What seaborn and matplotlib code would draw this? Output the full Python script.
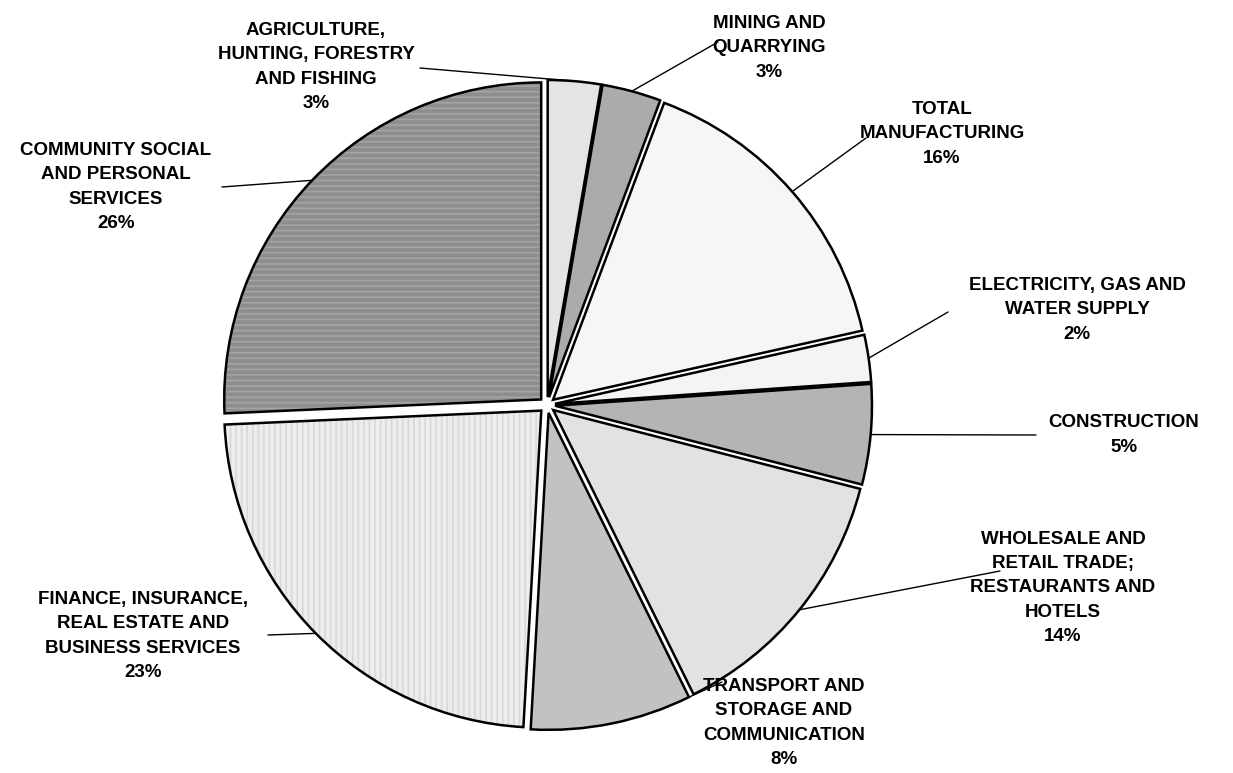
import matplotlib
matplotlib.use("Agg")
import matplotlib.pyplot as plt
import seaborn as sns
import numpy as np

sns.set_theme(style="white")
plt.rcParams['font.family'] = ['Liberation Sans', 'DejaVu Sans']

categories = [
    "AGRICULTURE,\nHUNTING, FORESTRY\nAND FISHING",
    "MINING AND\nQUARRYING",
    "TOTAL\nMANUFACTURING",
    "ELECTRICITY, GAS AND\nWATER SUPPLY",
    "CONSTRUCTION",
    "WHOLESALE AND\nRETAIL TRADE;\nRESTAURANTS AND\nHOTELS",
    "TRANSPORT AND\nSTORAGE AND\nCOMMUNICATION",
    "FINANCE, INSURANCE,\nREAL ESTATE AND\nBUSINESS SERVICES",
    "COMMUNITY SOCIAL\nAND PERSONAL\nSERVICES",
]
shares = [2.7, 3.0, 15.8, 2.4, 5.1, 13.7, 8.2, 23.4, 25.7]

colors = ["#e4e4e4", "#ababab", "#f6f6f6", "#f4f4f4", "#b4b4b4",
          "#e2e2e2", "#c2c2c2", "#ededed", "#8e8e8e"]
hatches = [None, None, None, None, None, None, None, "|||", "---"]
hatch_colors = [None, None, None, None, None, None, None, "#d8d8d8", "#a4a4a4"]

# label layout (pixel coords of the text block centre) and leader settings
label_pos = [(316, 67), (769, 48), (942, 134), (1077, 310), (1124, 435),
             (1063, 588), (784, 723), (143, 636), (116, 187)]
leader_start = [(420, 68), (718, 42), (866, 138), (948, 312), (1036, 435),
                (1000, 571), (722, 682), (268, 635), (222, 187)]
leader_frac = [0.5, 0.5, 0.5, 0.5, 0.5, 0.5, 0.02, 0.5, 0.5]

W, H = 1233, 773
fig = plt.figure(figsize=(W / 100, H / 100), dpi=100)
ax = fig.add_axes([0, 0, 1, 1])

cx, cy, r = 547, H - 405, 317
explode = [8] * len(shares)
# base fill
wedges, _ = ax.pie(shares, startangle=90, counterclock=False, center=(cx, cy),
                   radius=r, explode=explode, colors=colors,
                   wedgeprops=dict(linewidth=0), frame=True)
# pattern overlay
plt.rcParams['hatch.linewidth'] = 1.2
hw, _ = ax.pie(shares, startangle=90, counterclock=False, center=(cx, cy),
               radius=r, explode=explode, colors=["none"] * len(shares),
               wedgeprops=dict(linewidth=0), frame=True)
for w, h, hc in zip(hw, hatches, hatch_colors):
    if h:
        w.set_hatch(h)
        w.set_edgecolor(hc)
    else:
        w.set_visible(False)
# outlines
ow, _ = ax.pie(shares, startangle=90, counterclock=False, center=(cx, cy),
               radius=r, explode=explode, colors=["none"] * len(shares),
               wedgeprops=dict(edgecolor="black", linewidth=1.8), frame=True)

ax.set_xlim(0, W)
ax.set_ylim(0, H)
ax.set_aspect("equal")
ax.axis("off")

for i, w in enumerate(wedges):
    t1, t2 = w.theta1, w.theta2
    ang = np.deg2rad(t1 + (t2 - t1) * (1 - leader_frac[i]))
    ex = w.center[0] + w.r * np.cos(ang)
    ey = w.center[1] + w.r * np.sin(ang)
    sx, sy = leader_start[i]
    ax.plot([sx, ex], [H - sy, ey], color="black", lw=1.0, zorder=1)
    pct = round(shares[i])
    lx, ly = label_pos[i]
    ax.text(lx, H - ly, f"{categories[i]}\n{pct}%", ha="center", va="center",
            fontsize=13.5, fontweight="bold", linespacing=1.55, color="black",
            zorder=5)

fig.savefig("out.png", dpi=100, facecolor="white")
